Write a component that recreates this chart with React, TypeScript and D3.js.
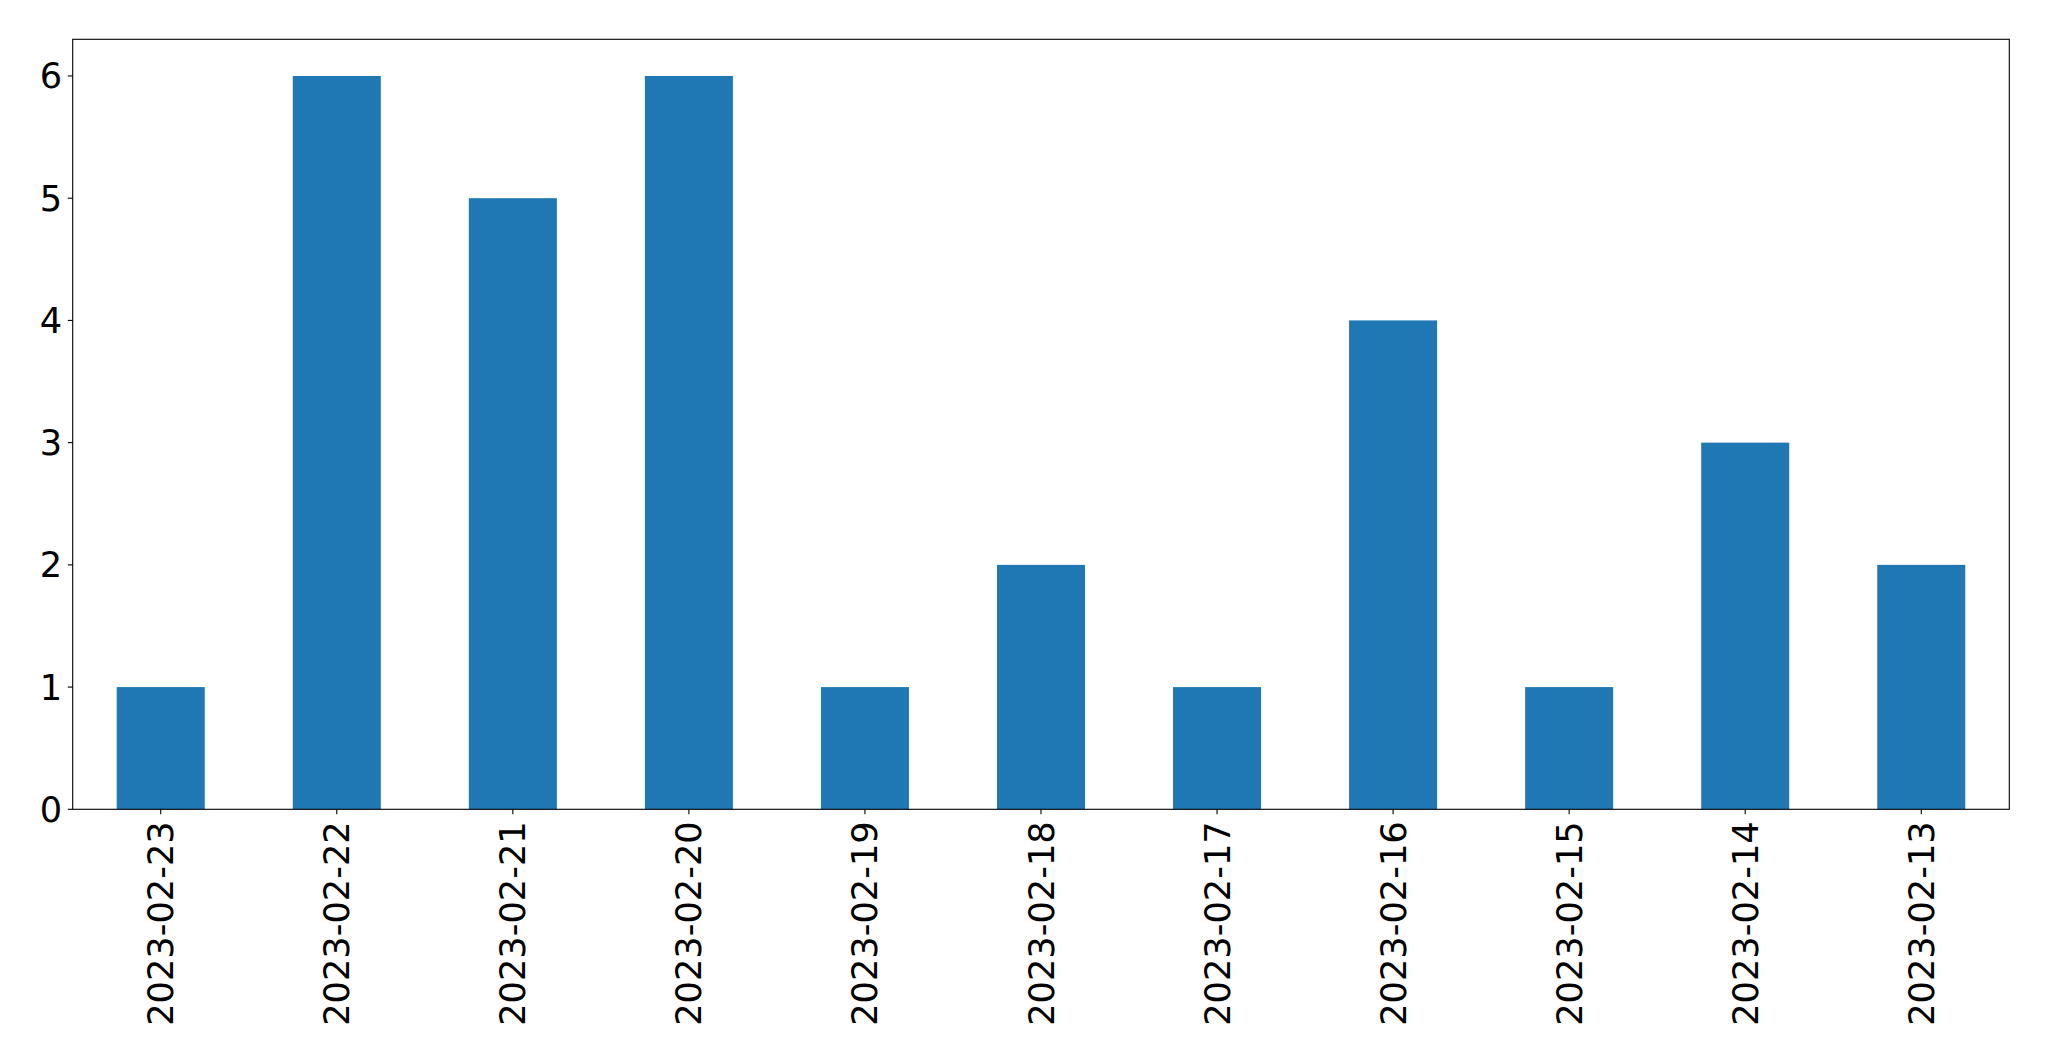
import React from "react";
import * as d3 from "d3";

const categories = ["2023-02-23","2023-02-22","2023-02-21","2023-02-20","2023-02-19","2023-02-18","2023-02-17","2023-02-16","2023-02-15","2023-02-14","2023-02-13"];
const values = [1,6,5,6,1,2,1,4,1,3,2];
const yTicks = [0,1,2,3,4,5,6];

const W = 2049, H = 1061;
const left = 72.7, right = 2009.3, top = 39.3, bottom = 809.3;
const FONT = "'DejaVu Sans', sans-serif";
const FS = 35.2;

export default function App() {
  const x = d3.scaleLinear().domain([-0.5, categories.length - 0.5]).range([left, right]);
  const y = d3.scaleLinear().domain([0, 6.3]).range([bottom, top]);
  const bw = x(0.25) - x(-0.25);
  return (
    <svg width={W} height={H} style={{ position: "absolute", left: 0, top: 0 }}>
      <rect x={0} y={0} width={W} height={H} fill="white" />
      {values.map((v, i) => (
        <rect key={i} x={x(i) - bw / 2} y={y(v)} width={bw} height={y(0) - y(v)} fill="#1f77b4" />
      ))}
      <rect x={left} y={top} width={right - left} height={bottom - top} fill="none" stroke="black" strokeWidth={1.1} />
      {yTicks.map((t) => (
        <g key={t}>
          <line x1={left - 4.9} x2={left} y1={y(t)} y2={y(t)} stroke="black" strokeWidth={1.1} />
          <text x={left - 10.5} y={y(t)} textAnchor="end" dominantBaseline="central" fontFamily={FONT} fontSize={FS} fill="black">{t}</text>
        </g>
      ))}
      {categories.map((c, i) => (
        <g key={c}>
          <line x1={x(i)} x2={x(i)} y1={bottom} y2={bottom + 4.9} stroke="black" strokeWidth={1.1} />
          <text transform={`translate(${x(i)},${bottom + 12}) rotate(-90)`} textAnchor="end" dominantBaseline="central" fontFamily={FONT} fontSize={FS} fill="black">{c}</text>
        </g>
      ))}
    </svg>
  );
}
